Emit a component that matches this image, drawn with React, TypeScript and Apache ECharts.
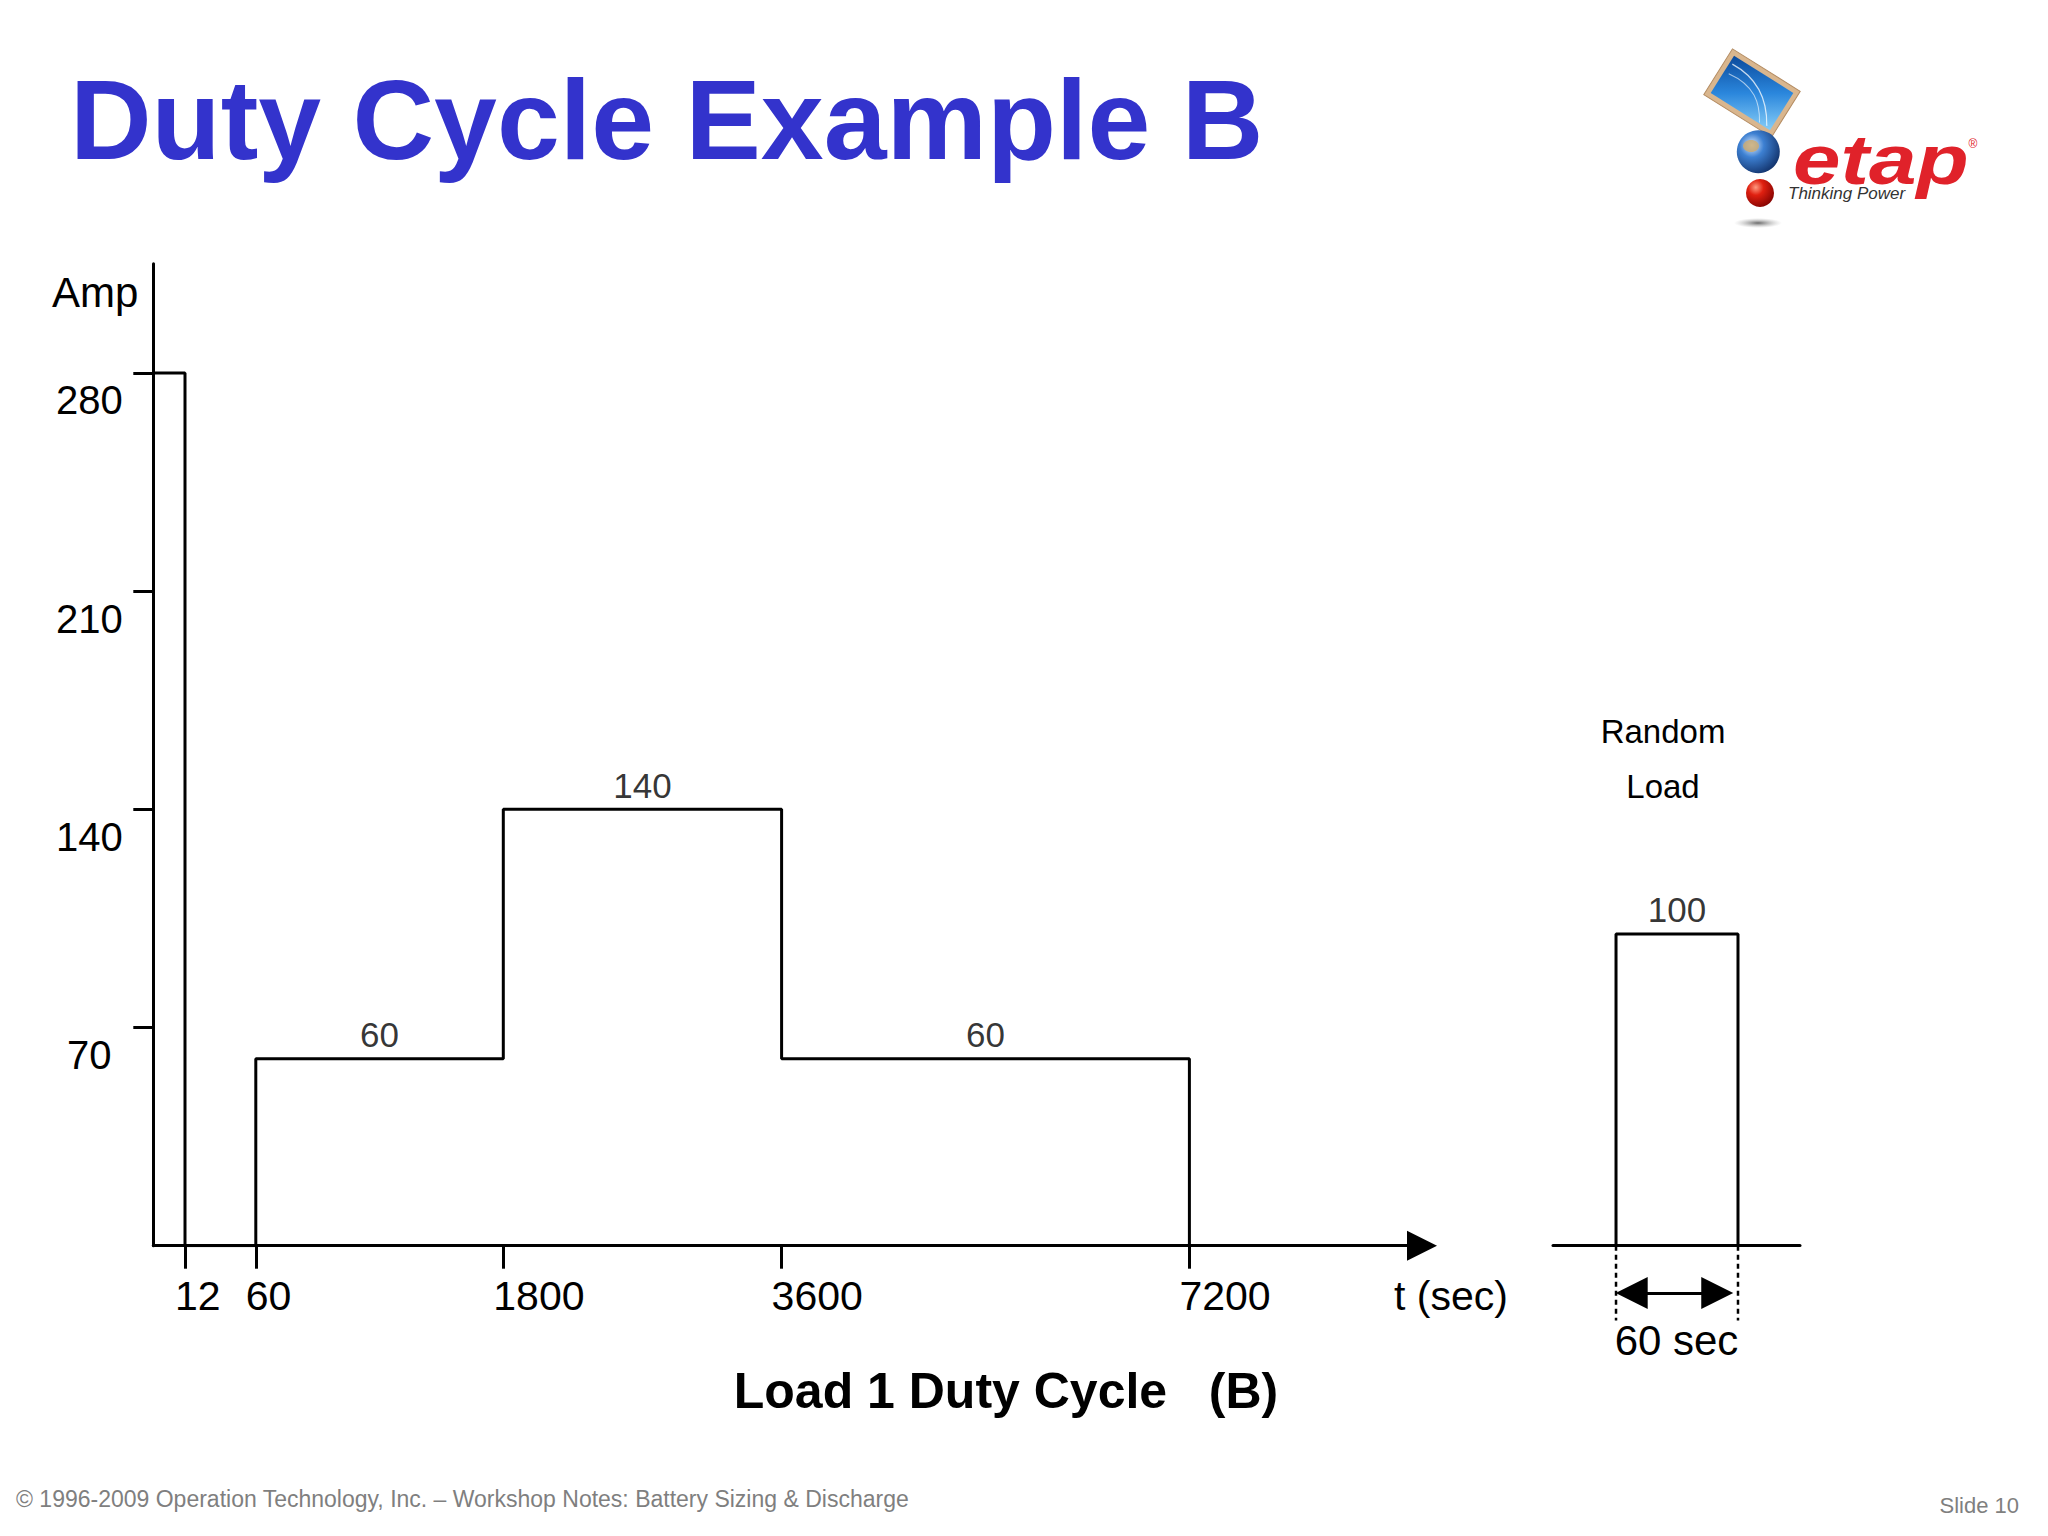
import React, { useEffect, useRef } from 'react';
import * as echarts from 'echarts';

// ---------- data ----------
// time breakpoints shown on the schematic time axis (seconds)
const timeTicks = [0, 12, 60, 1800, 3600, 7200];
// load segments of "Load 1 Duty Cycle (B)"
const loadStart = [0, 60, 1800, 3600];
const loadEnd = [12, 1800, 3600, 7200];
const loadAmps = [280, 60, 140, 60];
const loadLabelShown = [false, true, true, true];
// amp ticks
const ampTicks = [70, 140, 210, 280];
// random load
const randomStart = 0;
const randomDuration = 60;
const randomAmp = 100;

// ---------- layout (schematic, not to scale in the source) ----------
const tickLayout = [0, 31.7, 102.5, 350, 628.3, 1036.1];
const xLayoutMax = 1268.7;
const AMP_MAX = 315;
const PLOT_LEFT = 153.3;
const PLOT_TOP = 263.8;
const PLOT_ZERO = 1245.7;
const PX_PER_AMP = (PLOT_ZERO - PLOT_TOP) / AMP_MAX;
const RANDOM_Y_MIN = -25;
const RANDOM_X_MIN = -31;
const RANDOM_X_MAX = 90.5;
const RANDOM_LEFT = 1553;
const RANDOM_WIDTH = 247;
const ARROW_LEVEL = -15.2;
const DOT_DEPTH = -24;

const NARROW = "'Liberation Sans Narrow', 'Liberation Sans', Arial, sans-serif";
const SANS = "'Liberation Sans', Arial, sans-serif";

function toAxis(t: number): number {
  for (let i = 1; i < timeTicks.length; i++) {
    if (t <= timeTicks[i]) {
      const f = (t - timeTicks[i - 1]) / (timeTicks[i] - timeTicks[i - 1]);
      return tickLayout[i - 1] + f * (tickLayout[i] - tickLayout[i - 1]);
    }
  }
  return tickLayout[tickLayout.length - 1];
}

function timeLabelFor(v: number): string {
  for (let i = 0; i < tickLayout.length; i++) {
    if (Math.abs(tickLayout[i] - v) < 0.01) return String(timeTicks[i]);
  }
  return '';
}

function buildOption(): any {
  const stepPoints: number[][] = [];
  for (let i = 0; i < loadStart.length; i++) {
    stepPoints.push([toAxis(loadStart[i]), loadAmps[i]]);
    const nextStart = i + 1 < loadStart.length ? loadStart[i + 1] : null;
    if (nextStart === null || nextStart !== loadEnd[i]) {
      stepPoints.push([toAxis(loadEnd[i]), 0]);
    }
  }
  const segLabelPoints: number[][] = [];
  for (let i = 0; i < loadStart.length; i++) {
    if (loadLabelShown[i]) {
      segLabelPoints.push([(toAxis(loadStart[i]) + toAxis(loadEnd[i])) / 2, loadAmps[i]]);
    }
  }
  const randomEnd = randomStart + randomDuration;
  const boxPoints = [
    [randomStart, 0],
    [randomStart, randomAmp],
    [randomEnd, randomAmp],
    [randomEnd, 0],
  ];
  const customTicks = tickLayout.slice(1);
  const black = '#000000';

  const logoFrameGrad = new echarts.graphic.LinearGradient(0, 0, 1, 1, [
    { offset: 0, color: '#0b4a9c' },
    { offset: 0.5, color: '#2a86dc' },
    { offset: 1, color: '#86cdf7' },
  ]);
  const globeGrad = new echarts.graphic.RadialGradient(0.35, 0.35, 0.8, [
    { offset: 0, color: '#dcecff' },
    { offset: 0.35, color: '#3d80d2' },
    { offset: 1, color: '#0a2458' },
  ]);
  const ballGrad = new echarts.graphic.RadialGradient(0.35, 0.3, 0.8, [
    { offset: 0, color: '#ff9a80' },
    { offset: 0.35, color: '#e02010' },
    { offset: 1, color: '#7a0000' },
  ]);
  const shadowGrad = new echarts.graphic.RadialGradient(0.5, 0.5, 0.5, [
    { offset: 0, color: 'rgba(80,80,80,0.85)' },
    { offset: 1, color: 'rgba(170,170,170,0)' },
  ]);

  return {
    animation: false,
    backgroundColor: '#ffffff',
    title: [
      {
        text: 'Duty Cycle Example B',
        left: 70,
        top: 63.7,
        padding: 0,
        textStyle: {
          fontFamily: SANS,
          fontWeight: 'bold',
          fontSize: 113,
          lineHeight: 113,
          color: '#3333cc',
        },
      },
    ],
    grid: [
      {
        left: PLOT_LEFT,
        top: PLOT_TOP,
        width: xLayoutMax,
        height: PLOT_ZERO - PLOT_TOP,
        outerBoundsMode: 'none',
      },
      {
        left: RANDOM_LEFT,
        top: PLOT_TOP,
        width: RANDOM_WIDTH,
        height: (AMP_MAX - RANDOM_Y_MIN) * PX_PER_AMP,
        outerBoundsMode: 'none',
      },
    ],
    xAxis: [
      {
        type: 'value',
        gridIndex: 0,
        min: 0,
        max: xLayoutMax,
        splitLine: { show: false },
        axisLine: {
          show: true,
          onZero: false,
          symbol: ['none', 'triangle'],
          symbolSize: [30, 30],
          lineStyle: { color: black, width: 3 },
        },
        axisTick: {
          show: true,
          customValues: customTicks,
          length: 23,
          lineStyle: { color: black, width: 3 },
        },
        axisLabel: {
          show: true,
          customValues: customTicks,
          formatter: (v: number) => timeLabelFor(v),
          align: 'left',
          verticalAlign: 'top',
          padding: [0, 0, 0, -10],
          margin: 30,
          lineHeight: 41,
          fontSize: 41,
          fontFamily: NARROW,
          color: black,
        },
        name: 't (sec)',
        nameLocation: 'end',
        nameGap: -28,
        nameTextStyle: {
          fontSize: 41,
          lineHeight: 41,
          fontFamily: NARROW,
          color: black,
          align: 'left',
          verticalAlign: 'top',
          padding: [30, 0, 0, 0],
        },
      },
      {
        type: 'value',
        gridIndex: 1,
        min: RANDOM_X_MIN,
        max: RANDOM_X_MAX,
        offset: RANDOM_Y_MIN * PX_PER_AMP,
        splitLine: { show: false },
        axisTick: { show: false },
        axisLabel: { show: false },
        axisLine: { show: true, onZero: false, lineStyle: { color: black, width: 3 } },
        name: '60 sec',
        nameLocation: 'middle',
        nameGap: 73.8,
        nameTextStyle: {
          fontSize: 42,
          lineHeight: 42,
          fontFamily: SANS,
          color: black,
          align: 'center',
          verticalAlign: 'top',
        },
      },
    ],
    yAxis: [
      {
        type: 'value',
        gridIndex: 0,
        min: 0,
        max: AMP_MAX,
        splitLine: { show: false },
        axisLine: { show: true, onZero: false, lineStyle: { color: black, width: 3 } },
        axisTick: {
          show: true,
          customValues: ampTicks,
          length: 20,
          lineStyle: { color: black, width: 3 },
        },
        axisLabel: {
          show: true,
          customValues: ampTicks,
          align: 'center',
          verticalAlign: 'top',
          lineHeight: 55,
          margin: 64,
          fontSize: 40,
          fontFamily: NARROW,
          color: black,
        },
        name: 'Amp',
        nameLocation: 'end',
        nameGap: -28.5,
        nameTextStyle: {
          fontSize: 42,
          fontFamily: SANS,
          color: black,
          align: 'right',
          verticalAlign: 'middle',
          padding: [0, 15, 0, 0],
        },
      },
      {
        type: 'value',
        gridIndex: 1,
        min: RANDOM_Y_MIN,
        max: AMP_MAX,
        show: false,
        splitLine: { show: false },
      },
    ],
    series: [
      {
        name: 'Load 1 Duty Cycle (B)',
        type: 'line',
        xAxisIndex: 0,
        yAxisIndex: 0,
        step: 'end',
        data: stepPoints,
        symbol: 'none',
        showSymbol: false,
        silent: true,
        lineStyle: { color: black, width: 3 },
      },
      {
        name: 'segment labels',
        type: 'scatter',
        xAxisIndex: 0,
        yAxisIndex: 0,
        data: segLabelPoints,
        symbolSize: 1,
        silent: true,
        itemStyle: { color: 'rgba(0,0,0,0)' },
        label: {
          show: true,
          position: 'top',
          distance: 6,
          formatter: (p: any) => String(p.value[1]),
          fontSize: 35,
          lineHeight: 35,
          fontFamily: SANS,
          color: black,
        },
      },
      {
        name: 'Random Load',
        type: 'line',
        xAxisIndex: 1,
        yAxisIndex: 1,
        data: boxPoints,
        symbol: 'none',
        showSymbol: false,
        silent: true,
        clip: false,
        lineStyle: { color: black, width: 3 },
        markLine: {
          silent: true,
          symbol: ['triangle', 'triangle'],
          symbolSize: 32,
          label: { show: false },
          lineStyle: { color: black, width: 3, type: 'solid' },
          data: [
            [
              { coord: [randomStart + 7.7, ARROW_LEVEL] },
              { coord: [randomEnd - 10.2, ARROW_LEVEL] },
            ],
          ],
        },
      },
      {
        name: 'start marker',
        type: 'line',
        xAxisIndex: 1,
        yAxisIndex: 1,
        data: [
          [randomStart, 0],
          [randomStart, DOT_DEPTH],
        ],
        symbol: 'none',
        silent: true,
        clip: false,
        lineStyle: { color: black, width: 2.5, type: [5, 4] },
      },
      {
        name: 'end marker',
        type: 'line',
        xAxisIndex: 1,
        yAxisIndex: 1,
        data: [
          [randomEnd, 0],
          [randomEnd, DOT_DEPTH],
        ],
        symbol: 'none',
        silent: true,
        clip: false,
        lineStyle: { color: black, width: 2.5, type: [5, 4] },
      },
      {
        name: 'random label',
        type: 'scatter',
        xAxisIndex: 1,
        yAxisIndex: 1,
        data: [[randomStart + randomDuration / 2, randomAmp]],
        symbolSize: 1,
        silent: true,
        itemStyle: { color: 'rgba(0,0,0,0)' },
        label: {
          show: true,
          position: 'top',
          distance: 6,
          formatter: (p: any) => String(p.value[1]),
          fontSize: 35,
          lineHeight: 35,
          fontFamily: SANS,
          color: black,
        },
      },
    ],
    graphic: [
      {
        type: 'text',
        x: 1663,
        y: 759,
        silent: true,
        style: {
          text: 'Random\nLoad',
          fontSize: 33,
          lineHeight: 54.3,
          fontFamily: SANS,
          fill: black,
          align: 'center',
          verticalAlign: 'middle',
        },
      },
      {
        type: 'text',
        x: 1006,
        y: 1391,
        silent: true,
        style: {
          text: 'Load 1 Duty Cycle\u00a0\u00a0\u00a0(B)',
          fontSize: 50,
          fontWeight: 'bold',
          fontFamily: SANS,
          fill: black,
          align: 'center',
          verticalAlign: 'middle',
        },
      },
      {
        type: 'text',
        x: 16,
        y: 1499,
        silent: true,
        style: {
          text: '\u00a9 1996-2009 Operation Technology, Inc. \u2013 Workshop Notes: Battery Sizing & Discharge',
          fontSize: 23,
          fontFamily: SANS,
          fill: '#7f7f7f',
          align: 'left',
          verticalAlign: 'middle',
        },
      },
      {
        type: 'text',
        x: 2019,
        y: 1505,
        silent: true,
        style: {
          text: 'Slide 10',
          fontSize: 22,
          fontFamily: SANS,
          fill: '#7f7f7f',
          align: 'right',
          verticalAlign: 'middle',
        },
      },
      // logo
      {
        type: 'group',
        silent: true,
        children: [
          {
            type: 'ellipse',
            shape: { cx: 1758, cy: 223, rx: 24, ry: 5 },
            style: { fill: shadowGrad },
          },
          {
            type: 'group',
            x: 1752,
            y: 93,
            rotation: -0.56,
            children: [
              {
                type: 'rect',
                shape: { x: -40, y: -27, width: 80, height: 54 },
                style: { fill: '#d9b68e', stroke: '#b48c62', lineWidth: 1 },
              },
              {
                type: 'rect',
                shape: { x: -35, y: -22, width: 70, height: 44 },
                style: { fill: logoFrameGrad },
              },
              {
                type: 'bezierCurve',
                shape: { x1: -32, y1: -14, x2: 30, y2: 20, cpx1: 0, cpy1: -16, cpx2: 18, cpy2: 0 },
                style: { stroke: 'rgba(255,255,255,0.75)', lineWidth: 1.2, fill: null },
              },
              {
                type: 'bezierCurve',
                shape: { x1: -30, y1: -4, x2: 22, y2: 21, cpx1: -2, cpy1: -8, cpx2: 12, cpy2: 4 },
                style: { stroke: 'rgba(255,255,255,0.6)', lineWidth: 1, fill: null },
              },
            ],
          },
          {
            type: 'circle',
            shape: { cx: 1758.3, cy: 151.7, r: 21.5 },
            style: { fill: globeGrad },
          },
          {
            type: 'ellipse',
            shape: { cx: 1751, cy: 146, rx: 8, ry: 6 },
            style: { fill: 'rgba(205,170,110,0.8)' },
          },
          {
            type: 'circle',
            shape: { cx: 1760, cy: 193, r: 14 },
            style: { fill: ballGrad },
          },
          {
            type: 'text',
            x: 1793,
            y: 160,
            scaleX: 1.22,
            style: {
              text: 'etap',
              fontSize: 70,
              fontWeight: 'bold',
              fontStyle: 'italic',
              fontFamily: SANS,
              fill: '#e0222a',
              align: 'left',
              verticalAlign: 'middle',
            },
          },
          {
            type: 'text',
            x: 1973,
            y: 144,
            style: {
              text: '\u00ae',
              fontSize: 12,
              fontFamily: SANS,
              fill: '#e0222a',
              align: 'center',
              verticalAlign: 'middle',
            },
          },
          {
            type: 'text',
            x: 1788,
            y: 193,
            style: {
              text: 'Thinking Power',
              fontSize: 17,
              fontStyle: 'italic',
              fontFamily: SANS,
              fill: '#333333',
              align: 'left',
              verticalAlign: 'middle',
            },
          },
        ],
      },
    ],
  };
}

export default function App() {
  const ref = useRef<HTMLDivElement | null>(null);
  useEffect(() => {
    if (!ref.current) return;
    const chart = echarts.init(ref.current, null, { renderer: 'svg' });
    chart.setOption(buildOption());
    return () => {
      chart.dispose();
    };
  }, []);
  return (
    <div
      ref={ref}
      style={{ position: 'fixed', left: 0, top: 0, width: 2048, height: 1536, background: '#ffffff' }}
    />
  );
}
